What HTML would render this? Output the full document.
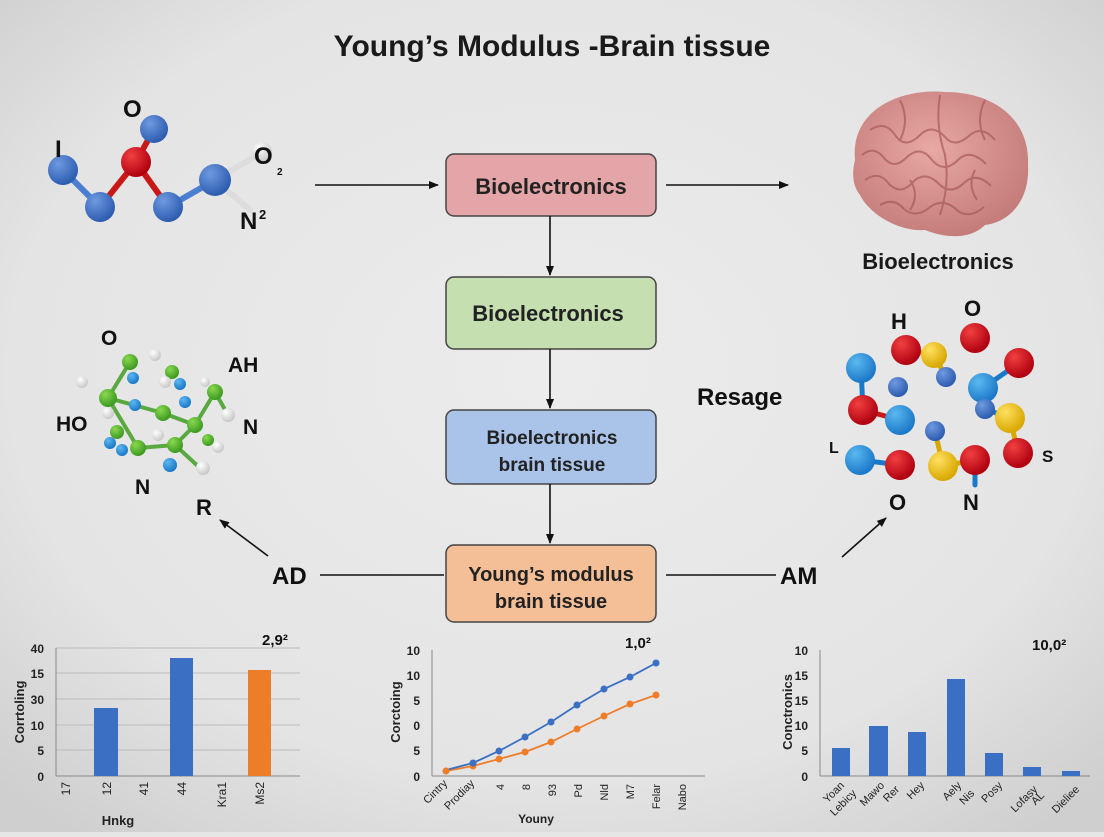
<!DOCTYPE html>
<html><head><meta charset="utf-8"><style>
html,body{margin:0;padding:0}
body{width:1104px;height:832px;overflow:hidden;background:#e6e6e6;font-family:"Liberation Sans",sans-serif}
svg text{font-family:"Liberation Sans",sans-serif}
</style></head><body>
<svg width="1104" height="832" viewBox="0 0 1104 832" xmlns="http://www.w3.org/2000/svg">
<defs>
<radialGradient id="bg" cx="50%" cy="45%" r="70%"><stop offset="0" stop-color="#ececec"/><stop offset="0.7" stop-color="#e4e4e4"/><stop offset="1" stop-color="#cfcfcf"/></radialGradient>
<radialGradient id="gb" cx="35%" cy="30%" r="70%"><stop offset="0" stop-color="#6f9ae0"/><stop offset="1" stop-color="#2d5cb0"/></radialGradient>
<radialGradient id="gc" cx="35%" cy="30%" r="70%"><stop offset="0" stop-color="#5cb8f0"/><stop offset="1" stop-color="#1a78c8"/></radialGradient>
<radialGradient id="gr" cx="35%" cy="30%" r="70%"><stop offset="0" stop-color="#f04040"/><stop offset="1" stop-color="#b00010"/></radialGradient>
<radialGradient id="gy" cx="35%" cy="30%" r="70%"><stop offset="0" stop-color="#ffe060"/><stop offset="1" stop-color="#d8a800"/></radialGradient>
<radialGradient id="gg" cx="35%" cy="30%" r="70%"><stop offset="0" stop-color="#8ad850"/><stop offset="1" stop-color="#3c9a20"/></radialGradient>
<radialGradient id="gw" cx="35%" cy="30%" r="70%"><stop offset="0" stop-color="#ffffff"/><stop offset="1" stop-color="#c8c8c8"/></radialGradient>
<radialGradient id="gbr" cx="45%" cy="40%" r="65%"><stop offset="0" stop-color="#e8a8a4"/><stop offset="1" stop-color="#c27a78"/></radialGradient>
<marker id="ah" markerWidth="10" markerHeight="10" refX="9" refY="5" orient="auto" markerUnits="userSpaceOnUse"><path d="M0,1 L10,5 L0,9 Z" fill="#111"/></marker>
</defs>
<rect width="1104" height="832" fill="url(#bg)"/>
<text x="552" y="56" text-anchor="middle" font-size="30" font-weight="bold" fill="#1a1a1a">Young’s Modulus -Brain tissue</text>

<!-- boxes -->
<rect x="446" y="154" width="210" height="62" rx="8" fill="#e3a5a7" stroke="#444" stroke-width="1.5"/>
<text x="551" y="194" text-anchor="middle" font-size="22" font-weight="bold" fill="#222">Bioelectronics</text>
<rect x="446" y="277" width="210" height="72" rx="8" fill="#c5dfb0" stroke="#444" stroke-width="1.5"/>
<text x="548" y="321" text-anchor="middle" font-size="22" font-weight="bold" fill="#222">Bioelectronics</text>
<rect x="446" y="410" width="210" height="74" rx="8" fill="#a9c3e9" stroke="#444" stroke-width="1.5"/>
<text x="552" y="444" text-anchor="middle" font-size="19" font-weight="bold" fill="#222">Bioelectronics</text>
<text x="552" y="471" text-anchor="middle" font-size="19" font-weight="bold" fill="#222">brain tissue</text>
<rect x="446" y="545" width="210" height="77" rx="8" fill="#f4be97" stroke="#444" stroke-width="1.5"/>
<text x="551" y="581" text-anchor="middle" font-size="20" font-weight="bold" fill="#222">Young’s modulus</text>
<text x="551" y="608" text-anchor="middle" font-size="20" font-weight="bold" fill="#222">brain tissue</text>

<!-- arrows -->
<g stroke="#111" stroke-width="1.6" fill="none">
<line x1="315" y1="185" x2="438" y2="185" marker-end="url(#ah)"/>
<line x1="666" y1="185" x2="788" y2="185" marker-end="url(#ah)"/>
<line x1="550" y1="216" x2="550" y2="275" marker-end="url(#ah)"/>
<line x1="550" y1="349" x2="550" y2="408" marker-end="url(#ah)"/>
<line x1="550" y1="484" x2="550" y2="543" marker-end="url(#ah)"/>
<line x1="320" y1="575" x2="444" y2="575"/>
<line x1="666" y1="575" x2="776" y2="575"/>
<line x1="268" y1="556" x2="220" y2="520" marker-end="url(#ah)"/>
<line x1="842" y1="557" x2="886" y2="518" marker-end="url(#ah)"/>
</g>
<text x="272" y="584" font-size="24" font-weight="bold" fill="#111">AD</text>
<text x="780" y="584" font-size="24" font-weight="bold" fill="#111">AM</text>
<text x="196" y="515" font-size="22" font-weight="bold" fill="#111">R</text>
<text x="697" y="405" font-size="24" font-weight="bold" fill="#111">Resage</text>

<!-- molecule 1 -->
<g stroke-width="6" stroke-linecap="round">
<line x1="63" y1="170" x2="100" y2="207" stroke="#4a7ed0"/>
<line x1="100" y1="207" x2="136" y2="162" stroke="#c81818"/>
<line x1="136" y1="162" x2="154" y2="129" stroke="#c81818"/>
<line x1="136" y1="162" x2="168" y2="207" stroke="#c81818"/>
<line x1="168" y1="207" x2="215" y2="180" stroke="#4a7ed0"/>
<line x1="215" y1="180" x2="258" y2="155" stroke="#ddd"/>
<line x1="215" y1="180" x2="250" y2="210" stroke="#ddd"/>
</g>
<circle cx="63" cy="170" r="15" fill="url(#gb)"/>
<circle cx="100" cy="207" r="15" fill="url(#gb)"/>
<circle cx="168" cy="207" r="15" fill="url(#gb)"/>
<circle cx="215" cy="180" r="16" fill="url(#gb)"/>
<circle cx="154" cy="129" r="14" fill="url(#gb)"/>
<circle cx="136" cy="162" r="15" fill="url(#gr)"/>
<circle cx="262" cy="152" r="10" fill="url(#gw)"/>
<g font-weight="bold" fill="#111">
<text x="55" y="157" font-size="24">I</text>
<text x="123" y="117" font-size="24">O</text>
<text x="254" y="164" font-size="24">O</text>
<text x="277" y="175" font-size="10">2</text>
<text x="240" y="229" font-size="24">N</text><text x="259" y="219" font-size="13">2</text>
</g>

<!-- molecule 2 -->
<g stroke="#5aa840" stroke-width="4" stroke-linecap="round">
<line x1="130" y1="362" x2="108" y2="398"/><line x1="108" y1="398" x2="163" y2="413"/>
<line x1="163" y1="413" x2="195" y2="425"/><line x1="195" y1="425" x2="215" y2="392"/>
<line x1="195" y1="425" x2="175" y2="445"/><line x1="108" y1="398" x2="138" y2="448"/>
<line x1="138" y1="448" x2="175" y2="445"/><line x1="215" y1="392" x2="228" y2="415"/>
<line x1="175" y1="445" x2="200" y2="468"/>
</g>
<circle cx="155" cy="355" r="6" fill="url(#gw)"/><circle cx="82" cy="382" r="6" fill="url(#gw)"/>
<circle cx="130" cy="362" r="8" fill="url(#gg)"/><circle cx="133" cy="378" r="6" fill="url(#gc)"/>
<circle cx="172" cy="372" r="7" fill="url(#gg)"/><circle cx="165" cy="382" r="6" fill="url(#gw)"/><circle cx="180" cy="384" r="6" fill="url(#gc)"/>
<circle cx="215" cy="392" r="8" fill="url(#gg)"/><circle cx="205" cy="382" r="5" fill="url(#gw)"/>
<circle cx="108" cy="398" r="9" fill="url(#gg)"/><circle cx="135" cy="405" r="6" fill="url(#gc)"/><circle cx="185" cy="402" r="6" fill="url(#gc)"/>
<circle cx="163" cy="413" r="8" fill="url(#gg)"/><circle cx="108" cy="413" r="6" fill="url(#gw)"/>
<circle cx="228" cy="415" r="7" fill="url(#gw)"/><circle cx="195" cy="425" r="8" fill="url(#gg)"/>
<circle cx="117" cy="432" r="7" fill="url(#gg)"/><circle cx="158" cy="435" r="6" fill="url(#gw)"/>
<circle cx="110" cy="443" r="6" fill="url(#gc)"/><circle cx="122" cy="450" r="6" fill="url(#gc)"/>
<circle cx="138" cy="448" r="8" fill="url(#gg)"/><circle cx="175" cy="445" r="8" fill="url(#gg)"/>
<circle cx="208" cy="440" r="6" fill="url(#gg)"/><circle cx="218" cy="447" r="6" fill="url(#gw)"/>
<circle cx="170" cy="465" r="7" fill="url(#gc)"/><circle cx="203" cy="468" r="7" fill="url(#gw)"/>
<g font-weight="bold" fill="#111" font-size="21">
<text x="101" y="345">O</text><text x="228" y="372">AH</text><text x="56" y="431">HO</text>
<text x="243" y="434">N</text><text x="135" y="494">N</text>
</g>

<!-- brain -->
<g>
<path d="M855,160 C850,110 900,88 945,92 C995,92 1030,120 1028,165 C1030,200 1010,222 985,225 C970,240 945,238 925,230 C900,232 870,215 860,195 C852,185 852,172 855,160Z" fill="url(#gbr)"/>
<g stroke="#a65a5a" stroke-width="2" fill="none" opacity="0.7">
<path d="M870,130 q15,-10 25,5 q10,15 25,0 q12,-12 25,2 q10,12 25,-2 q12,-10 25,5"/>
<path d="M862,155 q12,-10 22,3 q10,12 22,0 q14,-14 26,2 q12,14 26,0 q12,-12 28,4"/>
<path d="M865,180 q14,-10 24,4 q12,12 24,-2 q12,-12 26,2 q12,12 26,-2 q12,-10 26,4"/>
<path d="M880,205 q14,-8 24,4 q12,10 26,-2 q14,-10 28,4 q12,8 26,-4"/>
<path d="M940,95 q-5,30 5,60 q5,30 -5,60"/>
<path d="M900,100 q10,20 0,40 M985,100 q-10,20 0,40 M910,180 q10,15 0,30 M975,170 q-8,15 2,30"/>
</g>
</g>
<text x="938" y="269" text-anchor="middle" font-size="22" font-weight="bold" fill="#1a1a1a">Bioelectronics</text>

<!-- molecule 3 -->
<g stroke-width="5" stroke-linecap="round">
<line x1="906" y1="350" x2="934" y2="355" stroke="#d8a800"/><line x1="934" y1="355" x2="946" y2="377" stroke="#d8a800"/>
<line x1="983" y1="388" x2="1019" y2="363" stroke="#1a78c8"/>
<line x1="861" y1="368" x2="863" y2="410" stroke="#1a78c8"/><line x1="863" y1="410" x2="900" y2="420" stroke="#c81818"/>
<line x1="985" y1="409" x2="1010" y2="418" stroke="#1a78c8"/><line x1="1010" y1="418" x2="1018" y2="453" stroke="#d8a800"/>
<line x1="860" y1="460" x2="900" y2="465" stroke="#1a78c8"/>
<line x1="935" y1="431" x2="943" y2="466" stroke="#d8a800"/><line x1="943" y1="466" x2="975" y2="460" stroke="#d8a800"/>
<line x1="975" y1="460" x2="975" y2="485" stroke="#1a78c8"/>
</g>
<circle cx="906" cy="350" r="15" fill="url(#gr)"/><circle cx="934" cy="355" r="13" fill="url(#gy)"/>
<circle cx="975" cy="338" r="15" fill="url(#gr)"/><circle cx="1019" cy="363" r="15" fill="url(#gr)"/>
<circle cx="861" cy="368" r="15" fill="url(#gc)"/><circle cx="898" cy="387" r="10" fill="url(#gb)"/>
<circle cx="946" cy="377" r="10" fill="url(#gb)"/><circle cx="983" cy="388" r="15" fill="url(#gc)"/>
<circle cx="863" cy="410" r="15" fill="url(#gr)"/><circle cx="900" cy="420" r="15" fill="url(#gc)"/>
<circle cx="985" cy="409" r="10" fill="url(#gb)"/><circle cx="1010" cy="418" r="15" fill="url(#gy)"/>
<circle cx="935" cy="431" r="10" fill="url(#gb)"/><circle cx="1018" cy="453" r="15" fill="url(#gr)"/>
<circle cx="860" cy="460" r="15" fill="url(#gc)"/><circle cx="900" cy="465" r="15" fill="url(#gr)"/>
<circle cx="943" cy="466" r="15" fill="url(#gy)"/><circle cx="975" cy="460" r="15" fill="url(#gr)"/>
<g font-weight="bold" fill="#111">
<text x="891" y="329" font-size="22">H</text><text x="964" y="316" font-size="22">O</text>
<text x="829" y="453" font-size="16">L</text><text x="1042" y="462" font-size="17">S</text>
<text x="889" y="510" font-size="22">O</text><text x="963" y="510" font-size="22">N</text>
</g>

<!-- chart 1 -->
<g stroke="#bbb" stroke-width="1">
<line x1="56" y1="648" x2="300" y2="648"/><line x1="56" y1="673" x2="300" y2="673"/>
<line x1="56" y1="699" x2="300" y2="699"/><line x1="56" y1="725" x2="300" y2="725"/>
<line x1="56" y1="750" x2="300" y2="750"/>
</g>
<line x1="56" y1="648" x2="56" y2="776" stroke="#888"/><line x1="56" y1="776" x2="300" y2="776" stroke="#888"/>
<rect x="94" y="708" width="24" height="68" fill="#3a6fc4"/>
<rect x="170" y="658" width="23" height="118" fill="#3a6fc4"/>
<rect x="248" y="670" width="23" height="106" fill="#ee7d2a"/>
<g font-size="12" font-weight="bold" fill="#222" text-anchor="end">
<text x="44" y="653">40</text><text x="44" y="678">15</text><text x="44" y="704">30</text>
<text x="44" y="730">10</text><text x="44" y="755">5</text><text x="44" y="781">0</text>
</g>
<text x="262" y="645" font-size="15" font-weight="bold" fill="#111">2,9²</text>
<text transform="translate(24,712) rotate(-90)" text-anchor="middle" font-size="13" font-weight="bold" fill="#222">Corrtoling</text>
<g font-size="12" fill="#222">
<text transform="translate(70,782) rotate(-90)" text-anchor="end">17</text>
<text transform="translate(111,782) rotate(-90)" text-anchor="end">12</text>
<text transform="translate(148,782) rotate(-90)" text-anchor="end">41</text>
<text transform="translate(186,782) rotate(-90)" text-anchor="end">44</text>
<text transform="translate(226,782) rotate(-90)" text-anchor="end">Kra1</text>
<text transform="translate(264,782) rotate(-90)" text-anchor="end">Ms2</text>
</g>
<text x="178" y="825" text-anchor="middle" font-size="13" font-weight="bold" fill="#222" dx="-60">Hnkg</text>

<!-- chart 2 -->
<line x1="432" y1="650" x2="432" y2="776" stroke="#888"/><line x1="432" y1="776" x2="705" y2="776" stroke="#888"/>
<g font-size="12" font-weight="bold" fill="#222" text-anchor="end">
<text x="420" y="655">10</text><text x="420" y="680">10</text><text x="420" y="705">5</text>
<text x="420" y="730">0</text><text x="420" y="755">5</text><text x="420" y="781">0</text>
</g>
<text transform="translate(400,712) rotate(-90)" text-anchor="middle" font-size="13" font-weight="bold" fill="#222">Corctoing</text>
<text x="625" y="648" font-size="15" font-weight="bold" fill="#111">1,0²</text>
<polyline points="446,771 473,766 499,759 525,752 551,742 577,729 604,716 630,704 656,695" fill="none" stroke="#ee7d2a" stroke-width="1.8"/>
<polyline points="446,770 473,763 499,751 525,737 551,722 577,705 604,689 630,677 656,663" fill="none" stroke="#3a6fc4" stroke-width="1.8"/>
<g fill="#ee7d2a"><circle cx="446" cy="771" r="3.5"/><circle cx="473" cy="766" r="3.5"/><circle cx="499" cy="759" r="3.5"/><circle cx="525" cy="752" r="3.5"/><circle cx="551" cy="742" r="3.5"/><circle cx="577" cy="729" r="3.5"/><circle cx="604" cy="716" r="3.5"/><circle cx="630" cy="704" r="3.5"/><circle cx="656" cy="695" r="3.5"/></g>
<g fill="#3a6fc4"><circle cx="473" cy="763" r="3.5"/><circle cx="499" cy="751" r="3.5"/><circle cx="525" cy="737" r="3.5"/><circle cx="551" cy="722" r="3.5"/><circle cx="577" cy="705" r="3.5"/><circle cx="604" cy="689" r="3.5"/><circle cx="630" cy="677" r="3.5"/><circle cx="656" cy="663" r="3.5"/></g>
<g font-size="11" fill="#222">
<text transform="translate(448,784) rotate(-45)" text-anchor="end">Cintry</text>
<text transform="translate(475,784) rotate(-45)" text-anchor="end">Prodiay</text>
<text transform="translate(504,784) rotate(-90)" text-anchor="end">4</text>
<text transform="translate(530,784) rotate(-90)" text-anchor="end">8</text>
<text transform="translate(556,784) rotate(-90)" text-anchor="end">93</text>
<text transform="translate(582,784) rotate(-90)" text-anchor="end">Pd</text>
<text transform="translate(608,784) rotate(-90)" text-anchor="end">Nld</text>
<text transform="translate(634,784) rotate(-90)" text-anchor="end">M7</text>
<text transform="translate(660,784) rotate(-90)" text-anchor="end">Felar</text>
<text transform="translate(686,784) rotate(-90)" text-anchor="end">Nabo</text>
</g>
<text x="571" y="823" text-anchor="middle" font-size="12" font-weight="bold" fill="#222" dx="-35">Youny</text>

<!-- chart 3 -->
<line x1="820" y1="650" x2="820" y2="776" stroke="#888"/><line x1="820" y1="776" x2="1090" y2="776" stroke="#888"/>
<g font-size="12" font-weight="bold" fill="#222" text-anchor="end">
<text x="808" y="655">10</text><text x="808" y="680">15</text><text x="808" y="705">15</text>
<text x="808" y="730">10</text><text x="808" y="755">5</text><text x="808" y="781">0</text>
</g>
<text transform="translate(792,712) rotate(-90)" text-anchor="middle" font-size="13" font-weight="bold" fill="#222">Conctronics</text>
<text x="1032" y="650" font-size="15" font-weight="bold" fill="#111">10,0²</text>
<g fill="#3a6fc4">
<rect x="832" y="748" width="18" height="28"/><rect x="869" y="726" width="19" height="50"/>
<rect x="908" y="732" width="18" height="44"/><rect x="947" y="679" width="18" height="97"/>
<rect x="985" y="753" width="18" height="23"/><rect x="1023" y="767" width="18" height="9"/>
<rect x="1062" y="771" width="18" height="5"/>
</g>
<g font-size="11" fill="#222">
<text transform="translate(845,786) rotate(-45)" text-anchor="end">Yoan</text>
<text transform="translate(857,794) rotate(-45)" text-anchor="end">Lebicy</text>
<text transform="translate(885,786) rotate(-45)" text-anchor="end">Mawo</text>
<text transform="translate(900,790) rotate(-45)" text-anchor="end">Rer</text>
<text transform="translate(925,786) rotate(-45)" text-anchor="end">Hey</text>
<text transform="translate(962,786) rotate(-45)" text-anchor="end">Aely</text>
<text transform="translate(975,794) rotate(-45)" text-anchor="end">Nis</text>
<text transform="translate(1003,786) rotate(-45)" text-anchor="end">Posy</text>
<text transform="translate(1038,790) rotate(-45)" text-anchor="end">Lofasy</text>
<text transform="translate(1045,796) rotate(-45)" text-anchor="end">AL</text>
<text transform="translate(1080,790) rotate(-45)" text-anchor="end">Dieliee</text>
</g>
</svg>
</body></html>
